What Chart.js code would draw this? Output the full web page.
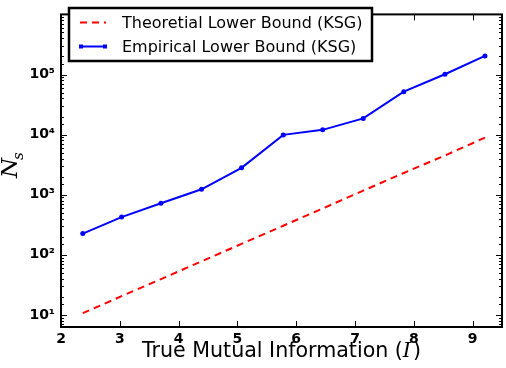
<!DOCTYPE html>
<html><head><meta charset="utf-8">
<script src="https://cdn.jsdelivr.net/npm/chart.js@4/dist/chart.umd.min.js"></script>
<style>html,body{margin:0;padding:0;background:#fff}#wrap{width:506px;height:368px;position:relative}</style>
</head><body><div id="wrap"><canvas id="c"></canvas></div>
<script>
// ---- data ----
const mutualInfo     = [2.37, 3.03, 3.70, 4.39, 5.07, 5.78, 6.45, 7.14, 7.83, 8.53, 9.21];
const theoreticalKSG = [10.7, 20.5, 39.5, 78, 152, 305, 590, 1170, 2300, 4500, 8900];
const empiricalKSG   = [226, 425, 720, 1230, 2800, 9900, 12000, 18600, 51800, 101000, 204000];
const seriesLabels   = ['Theoretial Lower Bound (KSG)', 'Empirical Lower Bound (KSG)'];
const xTickValues    = [2, 3, 4, 5, 6, 7, 8, 9];
const yTickLabels    = {10: '10\u00B9', 100: '10\u00B2', 1000: '10\u00B3', 10000: '10\u2074', 100000: '10\u2075'};
const xTitleParts    = ['True Mutual Information (', 'I', ')'];
const yTitleParts    = ['N', 's'];

const RED = '#ff0000', BLUE = '#0000ff';

const decor = {
  id: 'decor',
  afterDraw(chart) {
    const {ctx, chartArea: a, scales: {x, y}} = chart;
    ctx.save();
    ctx.strokeStyle = '#000';
    ctx.lineWidth = 1;
    const seg = (x1, y1, x2, y2) => { ctx.beginPath(); ctx.moveTo(x1, y1); ctx.lineTo(x2, y2); ctx.stroke(); };
    // inward x ticks bottom/top
    x.ticks.forEach(t => {
      const px = Math.round(x.getPixelForValue(t.value)) + 0.5;
      seg(px, a.bottom, px, a.bottom - 6);
      seg(px, a.top, px, a.top + 6);
    });
    // inward y ticks left/right
    y.ticks.forEach(t => {
      const v = t.value;
      if (v <= y.min || v >= y.max) return;
      const lg = Math.log10(v);
      const major = Math.abs(lg - Math.round(lg)) < 1e-6;
      const len = major ? 6 : 3;
      const py = Math.round(y.getPixelForValue(v)) + 0.5;
      seg(a.left, py, a.left + len, py);
      seg(a.right, py, a.right - len, py);
    });
    // frame
    ctx.lineWidth = 2;
    ctx.strokeRect(a.left, a.top, a.width, a.height);

    // legend
    const L = {left: 69, top: 8, right: 372, bottom: 61};
    ctx.fillStyle = '#fff';
    ctx.fillRect(L.left, L.top, L.right - L.left, L.bottom - L.top);
    ctx.lineWidth = 2.5;
    ctx.strokeStyle = '#000';
    ctx.strokeRect(L.left, L.top, L.right - L.left, L.bottom - L.top);
    const rows = [22, 46];
    chart.data.datasets.forEach((ds, i) => {
      const ry = rows[i] + 0.5;
      ctx.save();
      ctx.strokeStyle = ds.borderColor;
      ctx.lineWidth = 2;
      ctx.setLineDash(ds.borderDash || []);
      seg(80, ry, 106, ry);
      ctx.restore();
      if (ds.pointRadius > 0) {
        ctx.fillStyle = ds.borderColor;
        ctx.fillRect(79, ry - 2, 4, 4);
        ctx.fillRect(103, ry - 2, 4, 4);
      }
      ctx.fillStyle = '#000';
      ctx.font = '16px "DejaVu Sans"';
      ctx.textBaseline = 'middle';
      ctx.textAlign = 'left';
      ctx.fillText(ds.label, 122, ry + 1);
    });

    // x title with italic I
    ctx.fillStyle = '#000';
    ctx.textBaseline = 'alphabetic';
    ctx.textAlign = 'left';
    const f1 = '20.6px "DejaVu Sans"', f2 = 'italic 20.6px "DejaVu Serif"';
    ctx.font = f1; const w0 = ctx.measureText(xTitleParts[0]).width, w2 = ctx.measureText(xTitleParts[2]).width;
    ctx.font = f2; const w1 = ctx.measureText(xTitleParts[1]).width;
    let cx = (a.left + a.right) / 2 - (w0 + w1 + w2 + 2) / 2;
    const by = 357;
    ctx.font = f1; ctx.fillText(xTitleParts[0], cx, by); cx += w0;
    ctx.font = f2; ctx.fillText(xTitleParts[1], cx, by); cx += w1 + 2;
    ctx.font = f1; ctx.fillText(xTitleParts[2], cx, by);

    // y title N_s rotated
    ctx.save();
    ctx.translate(17, 178);
    ctx.rotate(-Math.PI / 2);
    ctx.font = 'italic 23px "DejaVu Serif"';
    ctx.fillText(yTitleParts[0], 0, 0);
    const wn = ctx.measureText(yTitleParts[0]).width;
    ctx.font = 'italic 15px "DejaVu Serif"';
    ctx.fillText(yTitleParts[1], wn - 2, 6);
    ctx.restore();
    ctx.restore();
  }
};

new Chart(document.getElementById('c'), {
  type: 'line',
  data: {
    datasets: [
      {
        label: seriesLabels[0],
        data: mutualInfo.map((v, i) => ({x: v, y: theoreticalKSG[i]})),
        borderColor: RED, backgroundColor: RED, borderWidth: 2,
        borderDash: [7, 5], pointRadius: 0, fill: false, tension: 0
      },
      {
        label: seriesLabels[1],
        data: mutualInfo.map((v, i) => ({x: v, y: empiricalKSG[i]})),
        borderColor: BLUE, backgroundColor: BLUE, borderWidth: 2,
        pointRadius: 2.5, pointBorderWidth: 0, pointBackgroundColor: BLUE, fill: false, tension: 0
      }
    ]
  },
  options: {
    responsive: true, maintainAspectRatio: false, animation: false,
    layout: {padding: {top: 1, right: 2, left: 0, bottom: 0}},
    plugins: {legend: {display: false}, tooltip: {enabled: false}},
    scales: {
      x: {
        type: 'linear', min: 2, max: 9.5,
        afterBuildTicks: s => { s.ticks = xTickValues.map(v => ({value: v})); },
        afterFit: s => { s.height = 41; },
        grid: {display: false, drawTicks: false},
        border: {display: false},
        ticks: {color: '#000', padding: 4, font: {family: 'DejaVu Sans', size: 14, weight: 'bold'}, maxRotation: 0,
                callback: v => String(v)}
      },
      y: {
        type: 'logarithmic', min: 6.3, max: 1e6,
        afterFit: s => { s.width = 61; },
        grid: {display: false, drawTicks: false},
        border: {display: false},
        ticks: {color: '#000', padding: 6, autoSkip: false, font: {family: 'DejaVu Sans', size: 14, weight: 'bold'},
                callback: v => yTickLabels[Math.round(v)] || ''}
      }
    }
  },
  plugins: [decor]
});
</script></body></html>
